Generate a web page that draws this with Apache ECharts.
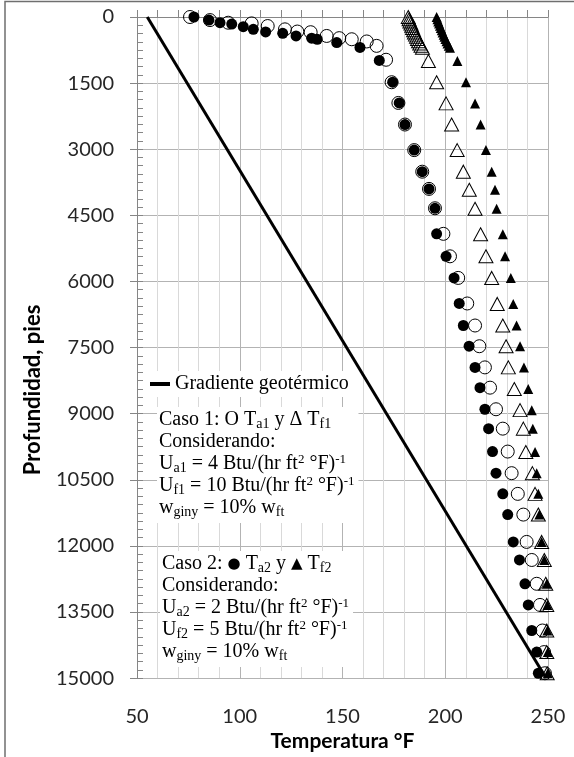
<!DOCTYPE html>
<html>
<head>
<meta charset="utf-8">
<script src="https://cdn.jsdelivr.net/npm/echarts@6/dist/echarts.min.js"></script>
<style>
  html, body { margin: 0; padding: 0; background: #ffffff; }
  #chart { width: 574px; height: 757px; }
</style>
</head>
<body>
<div id="chart"></div>
<script>
// Temperature profiles along the well (depth in ft, temperature in °F)

// Caso 1 – annulus temperature T_a1 (open circles)
const depthTa1 = [0, 70, 130, 145, 205, 280, 330, 345, 430, 480, 505, 555, 655, 970,
  1480, 1950, 2440, 3020, 3510, 3900, 4340, 4920, 5430, 5920, 6500, 7000, 7470, 7950,
  8410, 8900, 9340, 9860, 10350, 10820, 11290, 11910, 12320, 12860, 13340, 13920, 14410, 14890];
const tempTa1 = [75.8, 85.5, 94.4, 105.8, 113.6, 122.0, 128.0, 134.5, 142.3, 148.4, 154.5, 161.8, 166.6, 171.2,
  173.9, 177.2, 180.4, 184.9, 188.8, 192.1, 195.0, 199.1, 202.3, 206.3, 210.7, 214.5, 216.6, 219.3,
  221.8, 224.7, 228.0, 230.4, 232.3, 235.3, 238.0, 239.6, 242.1, 244.5, 246.1, 247.3, 248.1, 248.5];

// Caso 2 – annulus temperature T_a2 (filled circles)
const depthTa2 = [0, 70, 130, 160, 220, 280, 340, 370, 430, 480, 505, 580, 690, 985,
  1480, 1950, 2440, 3020, 3510, 3900, 4340, 4920, 5430, 5920, 6500, 7000, 7470, 7950,
  8410, 8900, 9340, 9860, 10350, 10820, 11290, 11910, 12320, 12860, 13340, 13920, 14410, 14890];
const tempTa2 = [77.7, 85.0, 90.4, 96.1, 101.7, 106.6, 112.6, 120.9, 127.4, 135.0, 137.7, 147.2, 158.5, 167.9,
  174.4, 177.6, 180.4, 184.9, 188.8, 192.1, 195.0, 195.8, 200.4, 204.3, 206.8, 208.8, 211.6, 214.5,
  216.9, 219.3, 221.1, 223.0, 224.7, 228.0, 230.4, 233.1, 236.1, 238.8, 240.4, 242.1, 244.5, 245.3];

// Fluid temperature depths (shared by both cases)
const depthTf = [0, 50, 100, 150, 200, 250, 300, 350, 400, 450, 500, 550, 600, 650, 700, 1000,
  1480, 1960, 2440, 3020, 3510, 3920, 4350, 4930, 5430, 5920, 6510, 7000, 7470, 7950,
  8440, 8920, 9340, 9870, 10350, 10820, 11290, 11910, 12320, 12860, 13340, 13920, 14410, 14890];
// Caso 1 – fluid temperature T_f1 (open triangles)
const tempTf1 = [182.0, 182.4, 182.8, 183.3, 183.7, 184.1, 184.6, 185.0, 185.5, 186.0, 186.5, 187.0, 187.6, 188.2, 188.9, 191.8,
  195.8, 200.4, 203.1, 205.8, 208.8, 211.7, 214.5, 217.2, 219.8, 222.6, 225.3, 228.0, 229.6, 230.7,
  233.6, 236.4, 238.0, 239.2, 242.4, 243.7, 245.3, 246.9, 248.2, 248.9, 249.4, 249.4, 249.4, 249.6];
// Caso 2 – fluid temperature T_f2 (filled triangles)
const tempTf2 = [195.8, 196.2, 196.6, 197.0, 197.4, 197.8, 198.3, 198.7, 199.2, 199.6, 200.1, 200.6, 201.1, 201.7, 202.3, 205.9,
  210.1, 214.5, 217.2, 219.8, 222.6, 224.2, 225.0, 228.0, 229.1, 231.9, 233.1, 234.7, 236.4, 238.3,
  240.4, 242.1, 242.6, 243.7, 244.5, 245.3, 245.8, 246.9, 248.2, 249.4, 249.7, 249.7, 249.9, 249.9];

// Geothermal gradient (straight line)
const geoTemp = [55, 249];
const geoDepth = [0, 15000];

// Axis tick labels
const xTickValues = [50, 100, 150, 200, 250];
const xTickLabels = ['50', '100', '150', '200', '250'];
const yTickValues = [0, 1500, 3000, 4500, 6000, 7500, 9000, 10500, 12000, 13500, 15000];
const yTickLabels = ['0', '1500', '3000', '4500', '6000', '7500', '9000', '10500', '12000', '13500', '15000'];

const pairs = (t, d) => t.map((v, i) => [v, d[i]]);
const lookup = (vals, labels) => v => {
  const i = vals.indexOf(v);
  return i >= 0 ? labels[i] : '';
};

const SANS = 'Lato, "Open Sans", sans-serif';
const SERIF = '"Liberation Serif", "DejaVu Serif", serif';
const SYMB = '"DejaVu Sans", sans-serif';
const AXIS_GRAY = '#868686';
const MAJOR_GRID = '#b3b3b3';
const MINOR_GRID = '#d9d9d9';

// Rich-text fragments: subscripts, superscripts and marker glyphs
const richStyles = {
  s: { fontSize: 14, fontFamily: SERIF, color: '#000', verticalAlign: 'bottom', lineHeight: 11 },
  p: { fontSize: 13, fontFamily: SERIF, color: '#000', verticalAlign: 'top', lineHeight: 14 },
  g: { fontSize: 15, fontFamily: SYMB, color: '#000', lineHeight: 22 }
};

const caso1 = [
  'Caso 1: O T{s|a1} y Δ T{s|f1}',
  'Considerando:',
  'U{s|a1} = 4 Btu/(hr ft{p|2} °F){p|-1}',
  'U{s|f1} = 10 Btu/(hr ft{p|2} °F){p|-1}',
  'w{s|giny} = 10% w{s|ft}'
].join('\n');

const caso2 = [
  'Caso 2: {g|●} T{s|a2} y {g|▲} T{s|f2}',
  'Considerando:',
  'U{s|a2} = 2 Btu/(hr ft{p|2} °F){p|-1}',
  'U{s|f2} = 5 Btu/(hr ft{p|2} °F){p|-1}',
  'w{s|giny} = 10% w{s|ft}'
].join('\n');

const chart = echarts.init(document.getElementById('chart'), null, { renderer: 'canvas' });

const baseY = {
  type: 'value',
  inverse: true,
  min: 0,
  max: 15000,
  interval: 1500
};

chart.setOption({
  animation: false,
  backgroundColor: '#ffffff',
  grid: { left: 137, right: 26, top: 17, bottom: 75, containLabel: false },
  legend: {
    data: ['Gradiente geotérmico'],
    left: 145,
    top: 371,
    padding: [3, 5, 3, 5],
    backgroundColor: '#ffffff',
    icon: 'rect',
    itemWidth: 20,
    itemHeight: 4,
    selectedMode: false,
    textStyle: { fontFamily: SERIF, fontSize: 20, color: '#000' },
    z: 20
  },
  xAxis: {
    type: 'value',
    min: 50,
    max: 250,
    interval: 50,
    name: 'Temperatura °F',
    nameLocation: 'middle',
    nameGap: 48,
    nameTextStyle: { fontFamily: SANS, fontSize: 21, fontWeight: 'bold', color: '#000' },
    axisLine: { show: true, lineStyle: { color: AXIS_GRAY, width: 1 } },
    axisTick: { show: true, inside: true, length: 7, lineStyle: { color: AXIS_GRAY } },
    minorTick: { show: true, splitNumber: 5, length: 7, lineStyle: { color: AXIS_GRAY } },
    axisLabel: {
      fontFamily: SANS, fontSize: 20, color: '#262626', margin: 28,
      formatter: lookup(xTickValues, xTickLabels)
    },
    splitLine: { show: true, lineStyle: { color: MAJOR_GRID, width: 1 } },
    minorSplitLine: { show: true, lineStyle: { color: MINOR_GRID, width: 1 } }
  },
  yAxis: [
    Object.assign({}, baseY, {
      axisLine: { show: true, lineStyle: { color: AXIS_GRAY, width: 1 } },
      axisTick: { show: true, inside: false, length: 7, lineStyle: { color: AXIS_GRAY } },
      axisLabel: {
        fontFamily: SANS, fontSize: 20, color: '#262626', margin: 23,
        formatter: lookup(yTickValues, yTickLabels)
      },
      splitLine: { show: true, lineStyle: { color: MAJOR_GRID, width: 1 } }
    }),
    Object.assign({}, baseY, {
      position: 'left',
      offset: 0,
      axisLine: { show: false },
      axisTick: { show: true, inside: true, length: 6, lineStyle: { color: AXIS_GRAY } },
      minorTick: { show: true, splitNumber: 8, length: 6, lineStyle: { color: AXIS_GRAY } },
      axisLabel: { show: false },
      splitLine: { show: false }
    })
  ],
  series: [
    {
      name: 'Ta1',
      type: 'scatter',
      data: pairs(tempTa1, depthTa1),
      symbol: 'circle',
      symbolSize: 13,
      itemStyle: { color: 'rgba(0,0,0,0)', borderColor: '#000', borderWidth: 1, opacity: 1 },
      clip: false
    },
    {
      name: 'Ta2',
      type: 'scatter',
      data: pairs(tempTa2, depthTa2),
      symbol: 'circle',
      symbolSize: 11,
      itemStyle: { color: '#000', opacity: 1 },
      clip: false
    },
    {
      name: 'Tf1',
      type: 'scatter',
      data: pairs(tempTf1, depthTf),
      symbol: 'triangle',
      symbolSize: [14, 13],
      itemStyle: { color: 'rgba(0,0,0,0)', borderColor: '#000', borderWidth: 1, opacity: 1 },
      clip: false
    },
    {
      name: 'Tf2',
      type: 'scatter',
      data: pairs(tempTf2, depthTf),
      symbol: 'triangle',
      symbolSize: [10, 10],
      itemStyle: { color: '#000', opacity: 1 },
      clip: false
    },
    {
      name: 'Gradiente geotérmico',
      type: 'line',
      data: pairs(geoTemp, geoDepth),
      showSymbol: false,
      symbol: 'none',
      color: '#000',
      lineStyle: { color: '#000', width: 3 },
      z: 5
    }
  ],
  graphic: [
    {
      type: 'rect',
      silent: true,
      shape: { x: 5, y: 1.5, width: 620, height: 800 },
      style: { fill: 'none', stroke: '#6f6f6f', lineWidth: 1.5 },
      z: 0
    },
    {
      type: 'text',
      silent: true,
      x: 33,
      y: 390,
      rotation: Math.PI / 2,
      style: {
        text: 'Profundidad, pies',
        fontFamily: SANS, fontSize: 22, fontWeight: 'bold', fill: '#000',
        align: 'center', verticalAlign: 'middle'
      }
    },
    {
      type: 'text',
      silent: true,
      x: 157,
      y: 407,
      z: 30,
      style: {
        text: caso1,
        fontFamily: SERIF, fontSize: 20, fill: '#000',
        lineHeight: 22,
        backgroundColor: '#ffffff',
        padding: [2, 4, 4, 2],
        rich: richStyles
      }
    },
    {
      type: 'text',
      silent: true,
      x: 160,
      y: 551,
      z: 30,
      style: {
        text: caso2,
        fontFamily: SERIF, fontSize: 20, fill: '#000',
        lineHeight: 22,
        backgroundColor: '#ffffff',
        padding: [2, 4, 4, 2],
        rich: richStyles
      }
    }
  ]
});
</script>
</body>
</html>
